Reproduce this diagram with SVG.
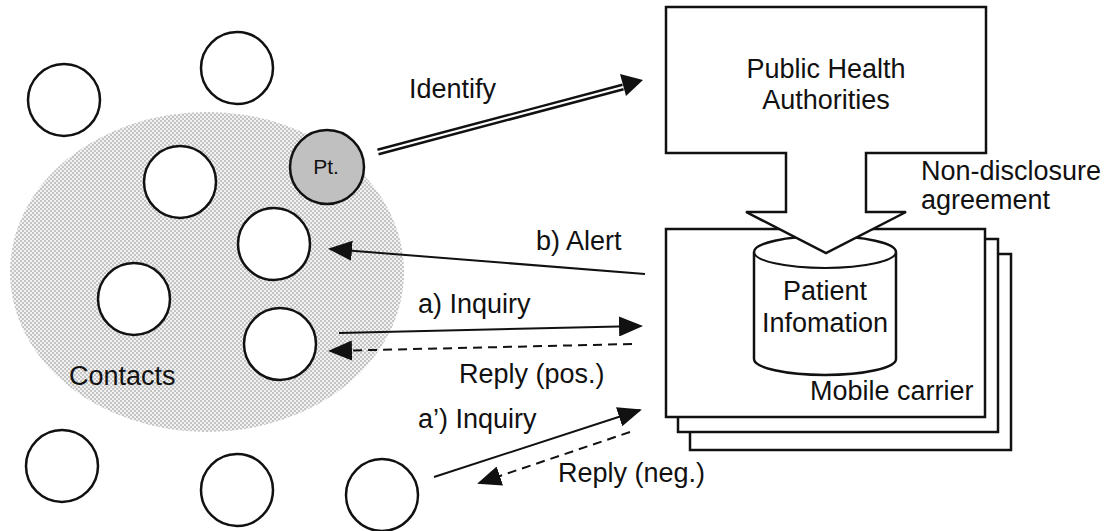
<svg xmlns="http://www.w3.org/2000/svg" width="1108" height="531" viewBox="0 0 1108 531">
  <style>
    text { font-family: "Liberation Sans", Arial, sans-serif; font-size: 27px; fill: #111; }
    .person { fill: #fff; stroke: #111; stroke-width: 2.5; }
    .box { fill: #fff; stroke: #111; stroke-width: 2.5; }
    .line { fill: none; stroke: #111; stroke-width: 2; }
    .dash { fill: none; stroke: #111; stroke-width: 2; stroke-dasharray: 9 6; }
  </style>
  <defs>
    <pattern id="dots" width="4" height="4" patternUnits="userSpaceOnUse">
      <rect width="4" height="4" fill="#f2f2f2"/>
      <rect x="0" y="0" width="2" height="2" fill="#c4c4c4"/>
      <rect x="2" y="2" width="2" height="2" fill="#c4c4c4"/>
    </pattern>
    <marker id="headBig" viewBox="0 0 24 20" refX="22" refY="10" markerWidth="24" markerHeight="20" markerUnits="userSpaceOnUse" orient="auto">
      <path d="M0,0 L24,10 L0,20 Z" fill="#111"/>
    </marker>
  </defs>

  <!-- contact group area -->
  <g id="contacts-area">
    <ellipse cx="207" cy="272" rx="197" ry="160" fill="url(#dots)"/>
    <text x="69" y="385">Contacts</text>
  </g>

  <!-- individuals -->
  <g id="person-1"><circle class="person" cx="64" cy="100" r="36"/></g>
  <g id="person-2"><circle class="person" cx="237" cy="68" r="36"/></g>
  <g id="person-3"><circle class="person" cx="180" cy="182" r="36"/></g>
  <g id="patient">
    <circle class="person" cx="327" cy="167" r="37" style="fill:#c0c0c0"/>
    <text x="326" y="174" text-anchor="middle" style="font-size:21px">Pt.</text>
  </g>
  <g id="person-4"><circle class="person" cx="274" cy="244" r="36"/></g>
  <g id="person-5"><circle class="person" cx="134" cy="299" r="36"/></g>
  <g id="person-6"><circle class="person" cx="280" cy="344" r="36"/></g>
  <g id="person-7"><circle class="person" cx="62" cy="466" r="36"/></g>
  <g id="person-8"><circle class="person" cx="237" cy="490" r="36"/></g>
  <g id="person-9"><circle class="person" cx="382" cy="495" r="36"/></g>

  <!-- mobile carriers (stacked) -->
  <g id="mobile-carrier">
    <rect class="box" x="690" y="254" width="321" height="196"/>
    <rect class="box" x="678" y="239" width="320" height="193"/>
    <rect class="box" x="666" y="229" width="319" height="188"/>
    <text x="810" y="400">Mobile carrier</text>
  </g>

  <!-- patient information database -->
  <g id="patient-information">
    <path class="box" d="M754,252 L754,359 A71,16 0 0 0 896,359 L896,252 A71,16 0 0 0 754,252 Z"/>
    <path class="line" d="M754,252 A71,16 0 0 0 896,252"/>
    <text x="825" y="300" text-anchor="middle">Patient</text>
    <text x="825" y="332" text-anchor="middle">Infomation</text>
  </g>

  <!-- public health authorities with block arrow -->
  <g id="public-health-authorities">
    <path class="box" d="M666,7 L986,7 L986,153 L866,153 L866,212 L906,212 L826,253 L746,212 L786,212 L786,153 L666,153 Z"/>
    <text x="826" y="78" text-anchor="middle">Public Health</text>
    <text x="826" y="109" text-anchor="middle">Authorities</text>
  </g>

  <g id="nda-label">
    <text x="921" y="180">Non-disclosure</text>
    <text x="921" y="209">agreement</text>
  </g>

  <!-- connectors -->
  <g id="connectors">
    <line x1="378" y1="152" x2="623" y2="87" stroke="#111" stroke-width="7"/>
    <line x1="376" y1="152.5" x2="624" y2="86.7" stroke="#fff" stroke-width="2.2"/>
    <path d="M620,74 L643,80 L626,96 Z" fill="#111"/>
    <line class="line" x1="645" y1="274" x2="330" y2="249" marker-end="url(#headBig)"/>
    <line class="line" x1="339" y1="333" x2="641" y2="326" marker-end="url(#headBig)"/>
    <line class="dash" x1="632" y1="344" x2="330" y2="351" marker-end="url(#headBig)"/>
    <line class="line" x1="434" y1="477" x2="640" y2="410" marker-end="url(#headBig)"/>
    <line class="dash" x1="630" y1="432" x2="479" y2="483" marker-end="url(#headBig)"/>
  </g>

  <g id="connector-labels">
    <text x="409" y="98">Identify</text>
    <text x="536" y="250">b) Alert</text>
    <text x="418" y="313">a) Inquiry</text>
    <text x="459" y="383">Reply (pos.)</text>
    <text x="418" y="428">a’) Inquiry</text>
    <text x="558" y="482">Reply (neg.)</text>
  </g>
</svg>
